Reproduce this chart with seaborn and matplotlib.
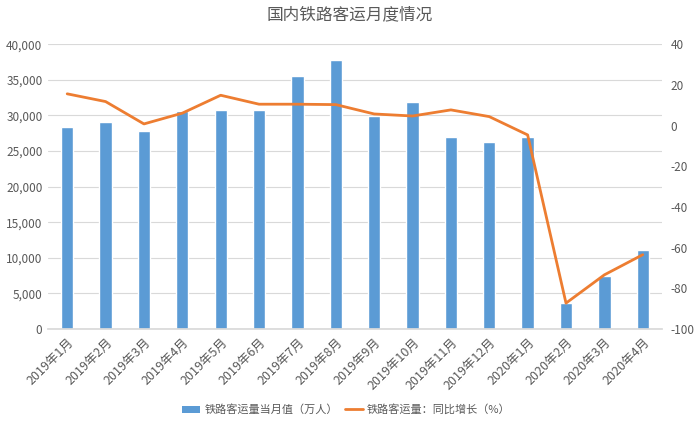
import numpy as np
import pandas as pd
import matplotlib
matplotlib.use("Agg")
import matplotlib.pyplot as plt
import seaborn as sns
from matplotlib.patches import Patch
from matplotlib.lines import Line2D

months = ["2019年1月", "2019年2月", "2019年3月", "2019年4月", "2019年5月", "2019年6月",
          "2019年7月", "2019年8月", "2019年9月", "2019年10月", "2019年11月", "2019年12月",
          "2020年1月", "2020年2月", "2020年3月", "2020年4月"]
volume = [28300, 29100, 27800, 30550, 30800, 30700, 35500, 37850,
          29900, 31900, 27000, 26200, 27000, 3650, 7400, 11100]
yoy = [15.6, 11.8, 0.8, 6.1, 14.9, 10.5, 10.5, 10.3,
       5.7, 4.7, 7.7, 4.4, -4.6, -87.3, -73.4, -63.5]

bar_label = "铁路客运量当月值（万人）"
line_label = "铁路客运量：同比增长（%）"
title = "国内铁路客运月度情况"

sns.set_theme(style="white")
plt.rcParams['font.family'] = ['Noto Sans CJK SC', 'DejaVu Sans']
plt.rcParams['axes.unicode_minus'] = False

text_color = "#595959"
bar_color = "#5B9BD5"
line_color = "#ED7D31"
grid_color = "#D9D9D9"

df = pd.DataFrame({"month": months, "volume": volume, "yoy": yoy, "pos": np.arange(len(months))})

fig = plt.figure(figsize=(7, 4.25), dpi=100)
ax = fig.add_axes([0.0686, 0.226, 0.877, 0.670])

sns.barplot(data=df, x="month", y="volume", ax=ax, color=bar_color, width=0.32,
            saturation=1, order=months)
ax.set_ylim(0, 40000)
ax.set_yticks(np.arange(0, 40001, 5000))
ax.set_yticklabels([f"{v:,}" for v in range(0, 40001, 5000)])
ax.set_xlim(-0.5, len(months) - 0.5)
ax.yaxis.grid(True, color=grid_color, linewidth=0.8)
ax.set_axisbelow(True)
ax.set_xlabel("")
ax.set_ylabel("")
for s in ["top", "right", "left"]:
    ax.spines[s].set_visible(False)
ax.spines["bottom"].set_color(grid_color)
ax.set_xticks(np.arange(len(months)))
ax.set_xticklabels(months, rotation=45, ha="right", rotation_mode="anchor",
                   fontsize=9, color=text_color)
ax.tick_params(axis="x", length=0, pad=5)
ax.set_xticks(np.arange(-0.5, len(months), 1), minor=True)
ax.tick_params(axis="x", which="minor", length=4, color=grid_color, width=0.8)
ax.tick_params(axis="y", length=0, labelsize=8.5, labelcolor=text_color, pad=4)

ax2 = ax.twinx()
sns.lineplot(data=df, x="pos", y="yoy", ax=ax2, color=line_color, linewidth=2)
ax2.set_ylim(-100, 40)
ax2.set_yticks(np.arange(-100, 41, 20))
ax2.set_xlim(-0.5, len(months) - 0.5)
ax2.set_xlabel("")
ax2.set_ylabel("")
for s in ["top", "right", "left", "bottom"]:
    ax2.spines[s].set_visible(False)
ax2.tick_params(axis="y", length=0, labelsize=8.5, labelcolor=text_color, pad=6)
ax2.grid(False)

fig.suptitle(title, x=0.5, y=0.985, fontsize=12, color=text_color)

handles = [Patch(facecolor=bar_color, edgecolor="none"),
           Line2D([0], [0], color=line_color, linewidth=2)]
fig.legend(handles, [bar_label, line_label], loc="center", bbox_to_anchor=(0.495, 0.036),
           ncol=2, frameon=False, fontsize=8, labelcolor=text_color,
           handlelength=1.6, handleheight=0.55, handletextpad=0.4, columnspacing=0.6)

fig.savefig("out.png", dpi=100, facecolor="white")
